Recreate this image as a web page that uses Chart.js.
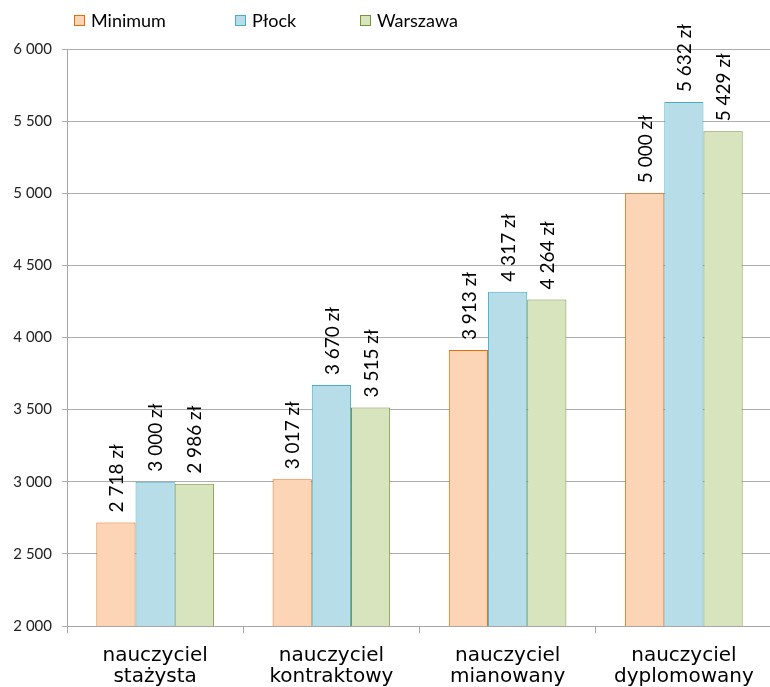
<!DOCTYPE html>
<html>
<head>
<meta charset="utf-8">
<script src="https://cdn.jsdelivr.net/npm/chart.js@4.4.1/dist/chart.umd.min.js"></script>
<style>
  html, body { margin: 0; padding: 0; background: #fff; overflow: hidden; }
  #wrap { width: 770px; height: 687px; overflow: hidden; }
</style>
</head>
<body>
<div id="wrap"><canvas id="salaryChart" width="772" height="687"></canvas></div>
<script>
// categories and series
const categories = [
  ["nauczyciel", "stażysta"],
  ["nauczyciel", "kontraktowy"],
  ["nauczyciel", "mianowany"],
  ["nauczyciel", "dyplomowany"]
];
const seriesNames = ["Minimum", "Płock", "Warszawa"];
const minimumValues = [2718, 3017, 3913, 5000];
const plockValues = [3000, 3670, 4317, 5632];
const warszawaValues = [2986, 3515, 4264, 5429];
const yTicks = [2000, 2500, 3000, 3500, 4000, 4500, 5000, 5500, 6000];

const fills = ["#FBD5B5", "#B7DEE8", "#D7E4BD"];
const borders = ["#E46C0A", "#4BACC6", "#77933C"];

function spaced(n) {
  return String(n).replace(/\B(?=(\d{3})+(?!\d))/g, " ");
}

// value labels above bars, rotated
const barLabels = {
  id: "barLabels",
  afterDatasetsDraw(chart) {
    const ctx = chart.ctx;
    ctx.save();
    ctx.font = "19px Lato";
    ctx.fillStyle = "#000";
    ctx.textAlign = "left";
    ctx.textBaseline = "middle";
    chart.data.datasets.forEach((ds, i) => {
      chart.getDatasetMeta(i).data.forEach((bar, j) => {
        ctx.save();
        ctx.translate(bar.x + 1, bar.y - 10);
        ctx.rotate(-Math.PI / 2);
        ctx.fillText(spaced(ds.data[j]) + " zł", 0, 0);
        ctx.restore();
      });
    });
    ctx.restore();
  }
};

// legend laid out like the original (fixed slots)
const legendSlots = [74, 235, 360];
const topLegend = {
  id: "topLegend",
  afterDraw(chart) {
    const ctx = chart.ctx;
    ctx.save();
    ctx.font = "18px Lato";
    ctx.textBaseline = "middle";
    chart.data.datasets.forEach((ds, i) => {
      const x = legendSlots[i];
      ctx.fillStyle = ds.backgroundColor;
      ctx.fillRect(x, 15, 11, 11);
      ctx.strokeStyle = ds.borderColor;
      ctx.lineWidth = 1;
      ctx.strokeRect(x + 0.5, 15.5, 10, 10);
      ctx.fillStyle = "#000";
      ctx.fillText(ds.label, x + 17, 21);
    });
    ctx.restore();
  }
};

const seriesValues = [minimumValues, plockValues, warszawaValues];

new Chart(document.getElementById("salaryChart"), {
  type: "bar",
  data: {
    labels: categories,
    datasets: seriesNames.map((name, i) => ({
      label: name,
      data: seriesValues[i],
      backgroundColor: fills[i],
      borderColor: borders[i],
      borderWidth: 1,
      borderSkipped: false,
      barPercentage: 1,
      categoryPercentage: 0.667
    }))
  },
  options: {
    responsive: false,
    animation: false,
    layout: { padding: { top: 49, left: 0, right: 0, bottom: 0 } },
    plugins: {
      legend: { display: false },
      tooltip: { enabled: false }
    },
    scales: {
      x: {
        afterFit(scale) { scale.height = 61; },
        grid: {
          drawOnChartArea: false,
          drawTicks: true,
          tickLength: 7,
          color: "#A6A6A6"
        },
        border: { color: "#A6A6A6" },
        ticks: {
          color: "#000",
          font: { family: "DejaVu Sans", size: 20, lineHeight: 1.05 },
          padding: 12,
          maxRotation: 0,
          autoSkip: false
        }
      },
      y: {
        min: 2000,
        max: 6000,
        afterFit(scale) { scale.width = 67; },
        afterBuildTicks(scale) { scale.ticks = yTicks.map(v => ({ value: v })); },
        grid: { color: "#ADADAD", tickLength: 5 },
        border: { color: "#A6A6A6" },
        ticks: {
          color: "#222",
          font: { family: "Lato", size: 15 },
          padding: 10,
          callback: v => spaced(v)
        }
      }
    }
  },
  plugins: [barLabels, topLegend]
});
</script>
</body>
</html>
